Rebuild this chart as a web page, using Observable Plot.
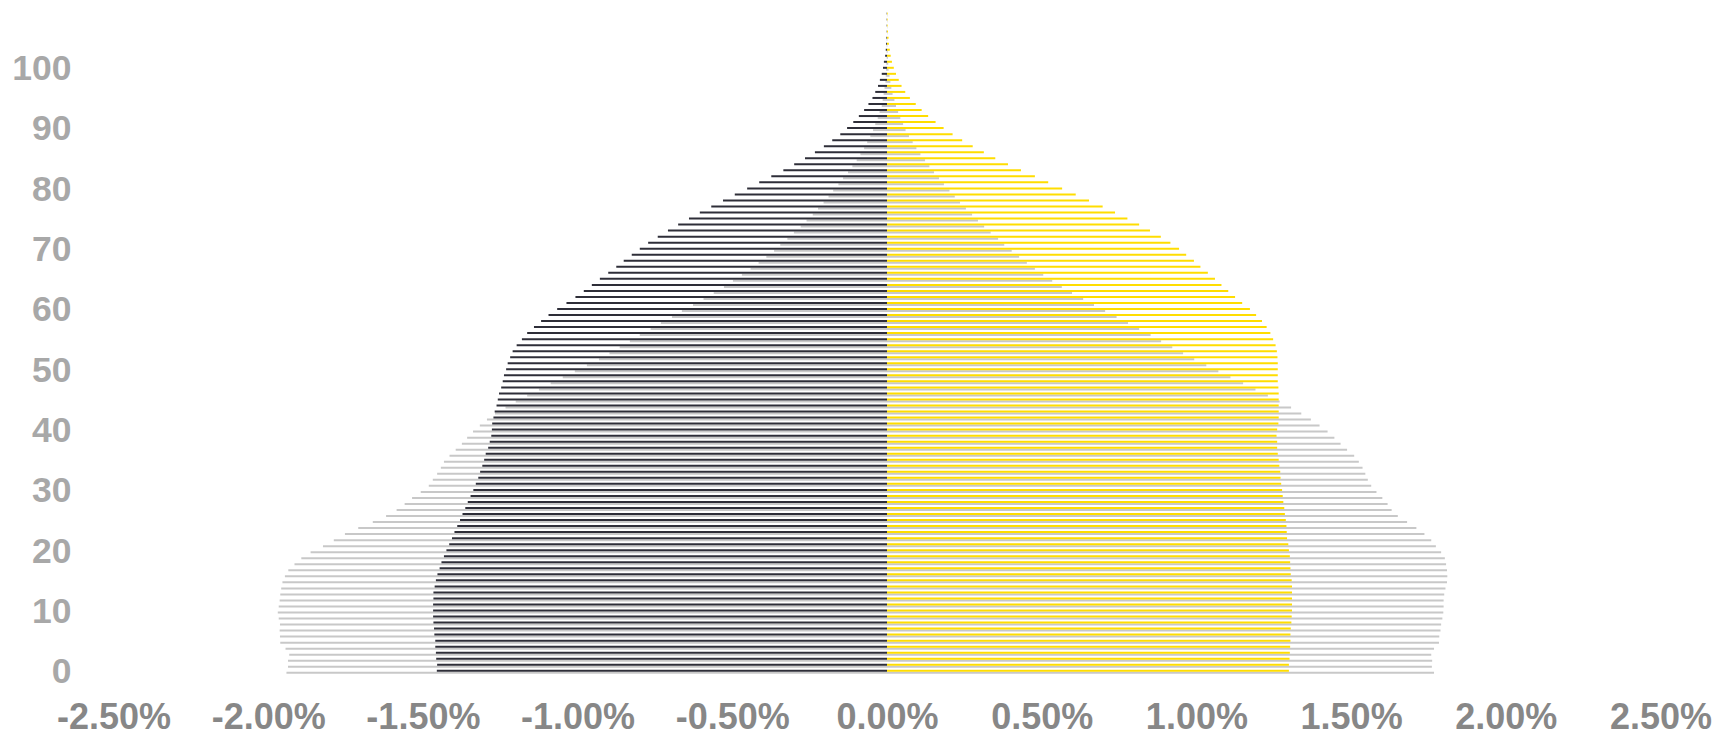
<!DOCTYPE html>
<html>
<head>
<meta charset="utf-8">
<script src="https://cdn.jsdelivr.net/npm/d3@7"></script>
<script src="https://cdn.jsdelivr.net/npm/@observablehq/plot@0.6"></script>
<style>
  html, body { margin: 0; padding: 0; background: #ffffff; }
  #chart svg { display: block; }
</style>
</head>
<body>
<div id="chart"></div>
<script>
// Share of total population (%) by single year of age, ages 0..109
const maleNow = [
  1.455,1.454,1.457,1.458,1.460,1.460,1.463,1.464,1.466,1.467,
  1.467,1.467,1.466,1.466,1.462,1.458,1.453,1.446,1.440,1.432,
  1.424,1.415,1.406,1.398,1.389,1.380,1.372,1.363,1.355,1.346,
  1.337,1.329,1.321,1.315,1.308,1.302,1.297,1.289,1.284,1.279,
  1.277,1.276,1.272,1.268,1.262,1.258,1.254,1.247,1.242,1.238,
  1.231,1.226,1.218,1.210,1.197,1.180,1.163,1.141,1.118,1.094,
  1.066,1.036,1.007,0.980,0.954,0.928,0.901,0.875,0.851,0.825,
  0.799,0.772,0.741,0.708,0.675,0.640,0.605,0.568,0.530,0.492,
  0.452,0.413,0.374,0.335,0.300,0.265,0.233,0.204,0.177,0.151,
  0.129,0.109,0.091,0.074,0.060,0.047,0.038,0.029,0.023,0.017,
  0.013,0.010,0.006,0.004,0.003,0.002,0.001,0.001,0.001,0.001
];
const maleThen = [
  1.941,1.936,1.936,1.932,1.944,1.961,1.962,1.963,1.962,1.966,
  1.969,1.966,1.963,1.961,1.958,1.954,1.946,1.935,1.915,1.893,
  1.863,1.823,1.788,1.752,1.709,1.662,1.619,1.585,1.559,1.535,
  1.507,1.481,1.468,1.454,1.442,1.432,1.414,1.394,1.374,1.357,
  1.338,1.316,1.293,1.267,1.233,1.200,1.163,1.125,1.087,1.048,
  1.009,0.970,0.931,0.897,0.864,0.831,0.799,0.764,0.731,0.695,
  0.663,0.627,0.593,0.560,0.527,0.498,0.469,0.441,0.415,0.390,
  0.365,0.345,0.322,0.301,0.279,0.260,0.240,0.223,0.205,0.189,
  0.174,0.157,0.142,0.126,0.112,0.098,0.086,0.074,0.064,0.054,
  0.045,0.038,0.030,0.024,0.017,0.014,0.011,0.008,0.005,0.004,
  0.003,0.002,0.001,0.001,0.001,0.001,0.000,0.000,0.000,0.000
];
const femaleNow = [
  1.299,1.299,1.301,1.302,1.303,1.304,1.304,1.305,1.307,1.308,
  1.309,1.309,1.309,1.309,1.309,1.308,1.305,1.304,1.303,1.302,
  1.299,1.297,1.293,1.292,1.291,1.289,1.286,1.284,1.281,1.279,
  1.277,1.274,1.272,1.271,1.268,1.266,1.263,1.261,1.261,1.259,
  1.261,1.265,1.266,1.266,1.266,1.266,1.266,1.265,1.263,1.263,
  1.263,1.263,1.262,1.260,1.256,1.248,1.239,1.227,1.212,1.193,
  1.173,1.148,1.125,1.103,1.081,1.060,1.037,1.013,0.992,0.967,
  0.944,0.916,0.885,0.850,0.815,0.777,0.737,0.697,0.653,0.610,
  0.566,0.521,0.478,0.433,0.391,0.350,0.313,0.277,0.243,0.212,
  0.183,0.157,0.133,0.112,0.093,0.074,0.059,0.047,0.038,0.029,
  0.022,0.016,0.012,0.009,0.006,0.005,0.003,0.002,0.002,0.002
];
const femaleThen = [
  1.768,1.761,1.762,1.759,1.768,1.784,1.785,1.789,1.791,1.795,
  1.798,1.799,1.799,1.801,1.805,1.810,1.811,1.810,1.807,1.803,
  1.791,1.774,1.759,1.737,1.711,1.681,1.651,1.631,1.618,1.601,
  1.582,1.565,1.554,1.546,1.537,1.525,1.510,1.487,1.466,1.446,
  1.424,1.398,1.370,1.339,1.306,1.269,1.231,1.191,1.151,1.110,
  1.071,1.032,0.993,0.957,0.922,0.886,0.852,0.815,0.779,0.742,
  0.705,0.669,0.634,0.598,0.565,0.534,0.505,0.478,0.452,0.427,
  0.403,0.379,0.359,0.335,0.314,0.294,0.275,0.255,0.236,0.219,
  0.202,0.184,0.168,0.152,0.137,0.123,0.108,0.095,0.083,0.071,
  0.060,0.052,0.043,0.036,0.029,0.024,0.018,0.014,0.011,0.008,
  0.005,0.004,0.003,0.002,0.001,0.001,0.001,0.001,0.001,0.001
];
const ages = maleNow.map((_, i) => i);
const xTicks = [-2.5, -2.0, -1.5, -1.0, -0.5, 0, 0.5, 1.0, 1.5, 2.0, 2.5];
const yTicks = [0, 10, 20, 30, 40, 50, 60, 70, 80, 90, 100];

const DARK = "#2e2e38";
const YELLOW = "#ffdd00";
const GRAY = "#c8c8c8";

const chart = Plot.plot({
  width: 1733,
  height: 737,
  marginLeft: 71,
  marginRight: 0,
  marginTop: 0,
  marginBottom: 34,
  style: { fontFamily: "'Liberation Sans', Arial, sans-serif", fontWeight: "bold", background: "#ffffff" },
  x: { type: "linear", domain: [-2.5, 2.5], range: [113.5, 1660.5] },
  y: { type: "linear", domain: [0, 100], range: [671.3, 68.3] },
  marks: [
    Plot.ruleY(ages, { y: d => d, x1: 0, x2: d => -maleThen[d], stroke: GRAY, strokeWidth: 2, dy: 1 }),
    Plot.ruleY(ages, { y: d => d, x1: 0, x2: d => femaleThen[d], stroke: GRAY, strokeWidth: 2, dy: 1 }),
    Plot.ruleY(ages, { y: d => d, x1: 0, x2: d => -maleNow[d], stroke: DARK, strokeWidth: 2, dy: -1 }),
    Plot.ruleY(ages, { y: d => d, x1: 0, x2: d => femaleNow[d], stroke: YELLOW, strokeWidth: 2, dy: -1 }),
    Plot.axisX({
      anchor: "bottom", ticks: xTicks, tickSize: 0, tickPadding: 0,
      tickFormat: d => d.toFixed(2) + "%", label: null,
      fontSize: 36, fontWeight: "bold", fill: "#878787"
    }),
    Plot.axisY({
      anchor: "left", ticks: yTicks, tickSize: 0, tickPadding: 0,
      tickFormat: d => String(d), label: null,
      fontSize: 35.5, fontWeight: "bold", fill: "#a8a8a8"
    })
  ]
});
document.getElementById("chart").appendChild(chart);
</script>
</body>
</html>
